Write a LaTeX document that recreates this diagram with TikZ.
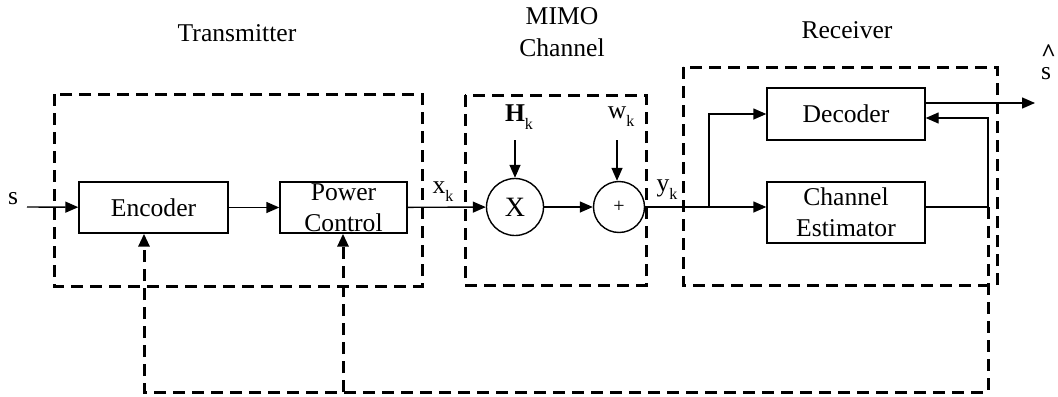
\documentclass[tikz,border=0pt]{standalone}
\usepackage{fontspec}
\setmainfont{Liberation Serif}
\usetikzlibrary{arrows.meta}
\newcommand{\lowk}{\raisebox{-0.7ex}{\fontsize{8}{8}\selectfont k}}

\begin{document}
\begin{tikzpicture}[x=0.5pt, y=-0.5pt, font=\fontsize{12.8}{13}\selectfont,
    blockbox/.style={draw, line width=0.7pt, inner sep=0pt, align=center, font=\fontsize{12.8}{15.5}\selectfont},
    sumnode/.style={circle, draw, line width=0.7pt, inner sep=0pt},
    flow/.style={line width=0.7pt, -{Triangle[length=6.5pt, width=5.5pt]}},
    plain/.style={line width=0.7pt},
    groupbox/.style={line width=1.5pt, dash pattern=on 6pt off 3.5pt},
    feedback/.style={line width=1.5pt, dash pattern=on 6pt off 3.5pt, -{Triangle[length=6.5pt, width=5.5pt]}}]
        \useasboundingbox (0,0) rectangle (1058,396);

        \draw[groupbox] (54,94) rectangle (422,286);
        \draw[groupbox] (465,95) rectangle (646,285);
        \draw[groupbox] (683,67) rectangle (997,285);

        \node (txlab)   at (237,33) {Transmitter};
        \node[align=center, font=\fontsize{12.8}{16}\selectfont] (chlab) at (562,32) {MIMO\\Channel};
        \node (rxlab)   at (847,30) {Receiver};

        \node[blockbox, minimum width=74.5pt, minimum height=25.5pt] (enc) at (153.5,207.5) {Encoder};
        \node[blockbox, minimum width=63.5pt, minimum height=25.5pt] (pwr) at (343.5,207.5) {Power\\Control};
        \node[sumnode, minimum size=28.5pt, font=\fontsize{14}{14}\selectfont] (mul) at (515,207) {X};
        \node[sumnode, minimum size=25.5pt] (add) at (619,207) {\fontsize{10}{10}\selectfont +};
        \node[blockbox, minimum width=79pt, minimum height=26pt] (dec) at (846,114) {Decoder};
        \node[blockbox, minimum width=79pt, minimum height=30.5pt] (est) at (846,212.5) {Channel\\Estimator};

        \node (slab)  at (13,199)   {s};
        \node (xlab)  at (443,192)  {x\lowk};
        \node (hlab)  at (519,117)  {\textbf{H}\lowk};
        \node (wlab)  at (621,117)  {w\lowk};
        \node (ylab)  at (667,190)  {y\lowk};
        \node[inner sep=0pt] (shat) at (1046,62) {\rlap{\raisebox{1.5ex}{\textbf{\^{}}}}s};

        \coordinate (sin)   at (27,207);
        \coordinate (hin)   at (515,140);
        \coordinate (win)   at (617,140);
        \coordinate (split) at (709,207);
        \coordinate (sout)  at (1035,103);
        \coordinate (estout) at (988,207);
        \coordinate (back)  at (988,118);
        \coordinate (fbr)   at (988,392);
        \coordinate (fbl)   at (144,392);
        \coordinate (fbm)   at (343,392);

        \draw[flow]  (sin) -- (enc);
        \draw[flow]  (enc) -- (pwr);
        \draw[flow]  (pwr) -- (mul);
        \draw[flow]  (hin) -- (mul);
        \draw[flow]  (mul) -- (add);
        \draw[flow]  (win) -- (win |- add.north);
        \draw[plain] (add) -- (split);
        \draw[flow]  (split) -- (split -| est.west);
        \draw[flow]  (split) |- (dec.west);
        \draw[flow]  (dec.east |- sout) -- (sout);
        \draw[plain] (est.east |- estout) -- (estout);
        \draw[flow]  (estout) -- (back) -- (dec.east |- back);

        \draw[feedback] (estout) -- (fbr) -- (fbl) -- (fbl |- enc.south);
        \draw[feedback] (fbm) -- (fbm |- pwr.south);
      \end{tikzpicture}
\end{document}
